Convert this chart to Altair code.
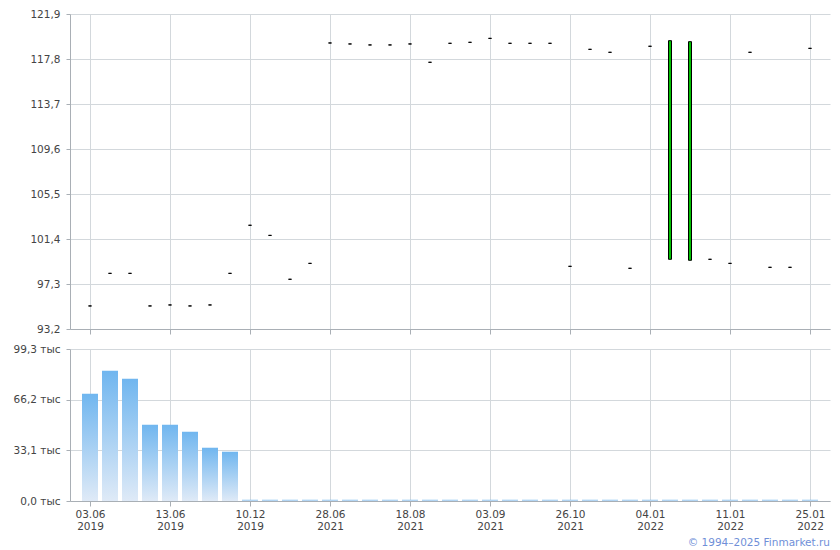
import altair as alt
import pandas as pd

dates = [
    "03.06.2019", "04.06.2019", "05.06.2019", "06.06.2019",
    "13.06.2019", "14.06.2019", "17.06.2019", "18.06.2019",
    "10.12.2019", "11.12.2019", "28.04.2020", "15.06.2020",
    "28.06.2021", "29.06.2021", "30.06.2021", "06.07.2021",
    "18.08.2021", "19.08.2021", "20.08.2021", "23.08.2021",
    "03.09.2021", "06.09.2021", "07.09.2021", "08.09.2021",
    "26.10.2021", "27.10.2021", "28.10.2021", "29.12.2021",
    "04.01.2022", "05.01.2022", "06.01.2022", "10.01.2022",
    "11.01.2022", "12.01.2022", "13.01.2022", "24.01.2022",
    "25.01.2022",
]
open_ = [
    95.30, 98.27, 98.27, 95.30, 95.39, 95.30, 95.39, 98.27,
    102.65, 101.73, 97.73, 99.18, 119.26, 119.17, 119.08, 119.08,
    119.17, 117.50, 119.23, 119.32, 119.68, 119.23, 119.23, 119.23,
    98.91, 118.68, 118.41, 98.73, 118.96, 99.55, 99.46, 99.55,
    99.18, 118.41, 98.82, 98.82, 118.77,
]
close = [
    95.30, 98.27, 98.27, 95.30, 95.39, 95.30, 95.39, 98.27,
    102.65, 101.73, 97.73, 99.18, 119.26, 119.17, 119.08, 119.08,
    119.17, 117.50, 119.23, 119.32, 119.68, 119.23, 119.23, 119.23,
    98.91, 118.68, 118.41, 98.73, 118.96, 119.47, 119.38, 99.55,
    99.18, 118.41, 98.82, 98.82, 118.77,
]
volume = [
    70.1, 85.1, 79.9, 49.8, 49.8, 45.3, 34.8, 32.2,
    0.8, 0.8, 0.8, 0.8, 0.8, 0.8, 0.8, 0.8,
    0.8, 0.8, 0.8, 0.8, 0.8, 0.8, 0.8, 0.8,
    0.8, 0.8, 0.8, 0.8, 0.8, 0.8, 0.8, 0.8,
    0.8, 0.8, 0.8, 0.8, 0.8,
]
price_ticks = [93.2, 97.3, 101.4, 105.5, 109.6, 113.7, 117.8, 121.9]
volume_ticks = [0.0, 33.1, 66.2, 99.3]
label_dates = dates[::4]

df = pd.DataFrame({"date": dates, "open": open_, "close": close, "volume": volume})

font = "DejaVu Sans"
fsize = 10.5
xscale = alt.Scale(type="point", domain=dates, padding=1)

x_top = alt.X(
    "date:N", scale=xscale, title=None,
    axis=alt.Axis(values=label_dates, labels=False, tickSize=5, grid=True),
)
x_bottom = alt.X(
    "date:N", scale=xscale, title=None,
    axis=alt.Axis(
        values=label_dates, tickSize=5, grid=True, labelAngle=0,
        labelPadding=3, labelLineHeight=12,
        labelExpr="[substring(datum.value, 0, 5), substring(datum.value, 6, 10)]",
    ),
)

price = alt.Chart(df).mark_bar(size=3, stroke="black", strokeWidth=1).encode(
    x=x_top,
    y=alt.Y(
        "open:Q", title=None,
        scale=alt.Scale(domain=[93.2, 121.9], nice=False, zero=False),
        axis=alt.Axis(
            values=price_ticks, tickSize=4, labelPadding=6,
            labelExpr="replace(format(datum.value, '.1f'), '.', ',')",
            minExtent=62, maxExtent=62,
        ),
    ),
    y2="close:Q",
    color=alt.condition("datum.close > datum.open", alt.value("#00c000"), alt.value("black")),
).properties(width=760, height=315)

vol = alt.Chart(df).mark_bar(
    size=16,
    color=alt.Gradient(
        gradient="linear",
        stops=[
            alt.GradientStop(color="#dfeaf7", offset=0),
            alt.GradientStop(color="#70b6ef", offset=1),
        ],
        x1=1, x2=1, y1=1, y2=0,
    ),
).encode(
    x=x_bottom,
    y=alt.Y(
        "volume:Q", title=None,
        scale=alt.Scale(domain=[0, 99.3], nice=False),
        axis=alt.Axis(
            values=volume_ticks, tickSize=4, labelPadding=6,
            labelExpr="replace(format(datum.value, '.1f'), '.', ',') + ' тыс'",
            minExtent=62, maxExtent=62,
        ),
    ),
).properties(width=760, height=152)

chart = alt.vconcat(price, vol, spacing=20, bounds="flush").properties(
    title=alt.TitleParams(
        "© 1994–2025 Finmarket.ru", orient="bottom", anchor="end",
        font=font, fontSize=fsize, fontWeight="normal", color="#6f8fd8", offset=6,
    ),
    padding={"left": 0, "top": 1, "right": 2, "bottom": 0},
).configure_view(stroke=None).configure_axis(
    labelFont=font, labelFontSize=fsize, labelColor="#444444",
    domainColor="#a9afb5", tickColor="#a9afb5", gridColor="#d3d8dc",
    gridWidth=1, domainWidth=1,
)

chart.save("out.html", embed_options={"renderer": "svg", "actions": False})
